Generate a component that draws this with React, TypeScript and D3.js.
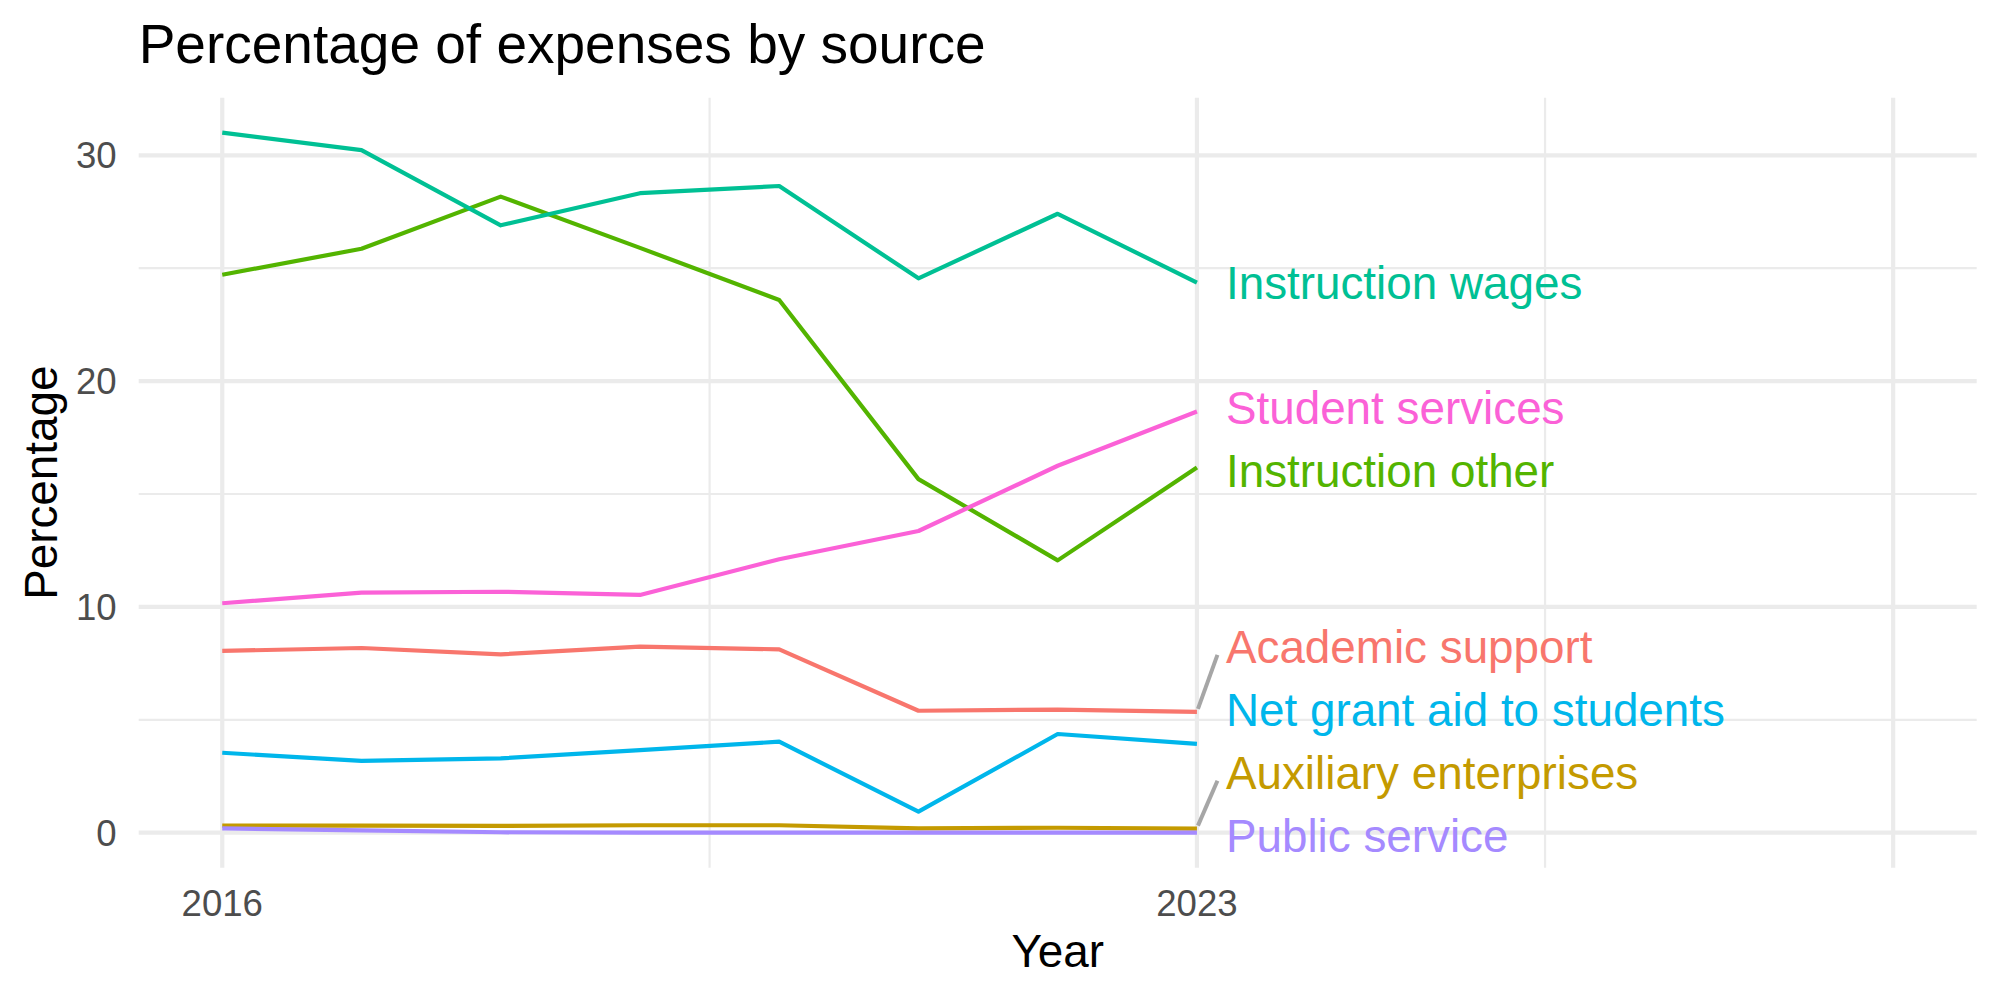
import * as d3 from "d3";
import { useEffect, useRef } from "react";

// values (percent of expenses)
const years = [2016, 2017, 2018, 2019, 2020, 2021, 2022, 2023];
const academicSupport = [8.05, 8.18, 7.9, 8.24, 8.12, 5.4, 5.45, 5.35];
const auxiliaryEnterprises = [0.31, 0.31, 0.3, 0.33, 0.33, 0.19, 0.22, 0.18];
const instructionOther = [24.71, 25.86, 28.17, 25.9, 23.59, 15.66, 12.06, 16.17];
const instructionWages = [31.0, 30.23, 26.9, 28.32, 28.64, 24.55, 27.41, 24.36];
const netGrantAid = [3.54, 3.18, 3.29, 3.66, 4.03, 0.93, 4.37, 3.93];
const publicService = [0.19, 0.1, 0.02, 0, 0, 0, 0, 0];
const studentServices = [10.16, 10.63, 10.67, 10.53, 12.11, 13.36, 16.25, 18.65];

const seriesNames = [
  "Academic support",
  "Auxiliary enterprises",
  "Instruction other",
  "Instruction wages",
  "Net grant aid to students",
  "Public service",
  "Student services",
];
const seriesValues = [
  academicSupport,
  auxiliaryEnterprises,
  instructionOther,
  instructionWages,
  netGrantAid,
  publicService,
  studentServices,
];
const seriesColors = ["#F8766D", "#C49A00", "#53B400", "#00C094", "#00B6EB", "#A58AFF", "#FB61D7"];

const xLimits = [2016, 2028];
const xBreaks = [2016, 2023, 2028];
const xLabels = ["2016", "2023", ""];
const yBreaks = [0, 10, 20, 30];

const FONT = "'Liberation Sans', Arial, Helvetica, sans-serif";

function App() {
  const ref = useRef<SVGSVGElement>(null);

  useEffect(() => {
    const width = 2000;
    const height = 1000;
    const panel = { left: 138.7, right: 1976.7, top: 97.7, bottom: 867.7 };
    const grid = "#EBEBEB";

    const svg = d3.select(ref.current);
    svg.selectAll("*").remove();
    svg.attr("width", width).attr("height", height);

    // ggplot style 5% expansion
    const xSpan = xLimits[1] - xLimits[0];
    const xScale = d3
      .scaleLinear()
      .domain([xLimits[0] - xSpan * 0.05, xLimits[1] + xSpan * 0.05])
      .range([panel.left, panel.right]);

    const allValues = seriesValues.flat();
    const yMin = d3.min(allValues)!;
    const yMax = d3.max(allValues)!;
    const ySpan = yMax - yMin;
    const yScale = d3
      .scaleLinear()
      .domain([yMin - ySpan * 0.05, yMax + ySpan * 0.05])
      .range([panel.bottom, panel.top]);

    const xMinor = xBreaks.slice(1).map((b, i) => (b + xBreaks[i]) / 2);
    const yMinor = yBreaks.slice(1).map((b, i) => (b + yBreaks[i]) / 2);

    const g = svg.append("g");

    // minor grid
    g.selectAll(".ygrid-minor")
      .data(yMinor)
      .enter()
      .append("line")
      .attr("x1", panel.left)
      .attr("x2", panel.right)
      .attr("y1", (d) => yScale(d))
      .attr("y2", (d) => yScale(d))
      .attr("stroke", grid)
      .attr("stroke-width", 2.2);
    g.selectAll(".xgrid-minor")
      .data(xMinor)
      .enter()
      .append("line")
      .attr("y1", panel.top)
      .attr("y2", panel.bottom)
      .attr("x1", (d) => xScale(d))
      .attr("x2", (d) => xScale(d))
      .attr("stroke", grid)
      .attr("stroke-width", 2.2);

    // major grid
    g.selectAll(".ygrid")
      .data(yBreaks)
      .enter()
      .append("line")
      .attr("x1", panel.left)
      .attr("x2", panel.right)
      .attr("y1", (d) => yScale(d))
      .attr("y2", (d) => yScale(d))
      .attr("stroke", grid)
      .attr("stroke-width", 4.2);
    g.selectAll(".xgrid")
      .data(xBreaks)
      .enter()
      .append("line")
      .attr("y1", panel.top)
      .attr("y2", panel.bottom)
      .attr("x1", (d) => xScale(d))
      .attr("x2", (d) => xScale(d))
      .attr("stroke", grid)
      .attr("stroke-width", 4.2);

    // lines
    const line = d3
      .line<number>()
      .x((d, i) => xScale(years[i]))
      .y((d) => yScale(d));
    seriesValues.forEach((vals, k) => {
      g.append("path")
        .attr("d", line(vals))
        .attr("fill", "none")
        .attr("stroke", seriesColors[k])
        .attr("stroke-width", 4.2)
        .attr("stroke-linejoin", "round");
    });

    // end labels, pushed apart like ggrepel
    const fs = 45.8;
    const gap = 63;
    const lowBound = panel.top + 32;
    const highBound = panel.bottom - 32;
    const lastIdx = years.length - 1;
    const items = seriesValues
      .map((vals, k) => ({ k, target: yScale(vals[lastIdx]), pos: 0 }))
      .sort((a, b) => a.target - b.target);

    let clusters = items.map((it) => [it]);
    const place = (c: typeof items) => {
      const mean = d3.mean(c, (d) => d.target)!;
      let start = mean - ((c.length - 1) / 2) * gap;
      start = Math.max(lowBound, Math.min(start, highBound - (c.length - 1) * gap));
      c.forEach((d, i) => (d.pos = start + i * gap));
    };
    let changed = true;
    while (changed) {
      changed = false;
      clusters.forEach(place);
      for (let i = 1; i < clusters.length; i++) {
        const prev = clusters[i - 1];
        const cur = clusters[i];
        if (cur[0].pos - prev[prev.length - 1].pos < gap - 0.01) {
          clusters.splice(i - 1, 2, prev.concat(cur));
          changed = true;
          break;
        }
      }
    }

    const xEnd = xScale(years[lastIdx]);
    const labelX = xEnd + 29;
    items.forEach((d) => {
      const baseline = d.pos + fs * 0.352;
      if (Math.abs(d.pos - d.target) > 40) {
        g.append("line")
          .attr("x1", xEnd + 1)
          .attr("y1", d.target - 3)
          .attr("x2", labelX - 8.5)
          .attr("y2", baseline - 8)
          .attr("stroke", "#A6A6A6")
          .attr("stroke-width", 4);
      }
      g.append("text")
        .attr("x", labelX)
        .attr("y", baseline)
        .attr("fill", seriesColors[d.k])
        .style("font-family", FONT)
        .style("font-size", `${fs}px`)
        .text(seriesNames[d.k]);
    });

    // y tick labels
    g.selectAll(".ytick")
      .data(yBreaks)
      .enter()
      .append("text")
      .attr("x", 116.7)
      .attr("y", (d) => yScale(d) + 13)
      .attr("text-anchor", "end")
      .attr("fill", "#4D4D4D")
      .style("font-family", FONT)
      .style("font-size", "36.6px")
      .text((d) => String(d));

    // x tick labels
    g.selectAll(".xtick")
      .data(xBreaks)
      .enter()
      .append("text")
      .attr("x", (d) => xScale(d))
      .attr("y", 915.5)
      .attr("text-anchor", "middle")
      .attr("fill", "#4D4D4D")
      .style("font-family", FONT)
      .style("font-size", "36.6px")
      .text((d, i) => xLabels[i]);

    // axis titles
    g.append("text")
      .attr("x", (panel.left + panel.right) / 2)
      .attr("y", 966.7)
      .attr("text-anchor", "middle")
      .style("font-family", FONT)
      .style("font-size", "45.8px")
      .text("Year");
    g.append("text")
      .attr("transform", `translate(57,${(panel.top + panel.bottom) / 2}) rotate(-90)`)
      .attr("text-anchor", "middle")
      .style("font-family", FONT)
      .style("font-size", "45.8px")
      .text("Percentage");

    // title
    g.append("text")
      .attr("x", panel.left)
      .attr("y", 62.7)
      .style("font-family", FONT)
      .style("font-size", "55px")
      .text("Percentage of expenses by source");
  }, []);

  return (
    <svg
      ref={ref}
      style={{ position: "absolute", left: 0, top: 0, background: "#FFFFFF" }}
    ></svg>
  );
}

export default App;
